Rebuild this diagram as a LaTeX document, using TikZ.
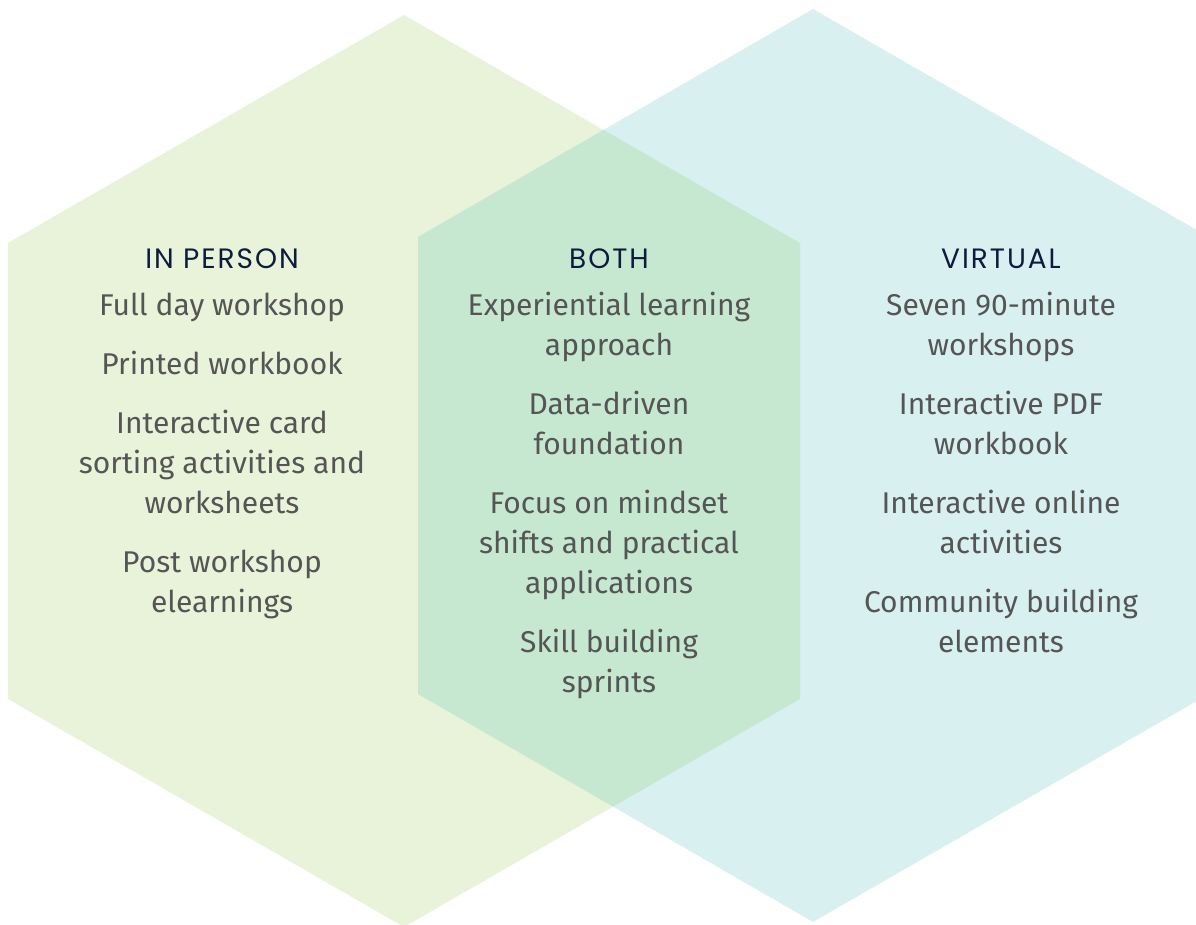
\documentclass[tikz,border=0pt]{standalone}
\usepackage{fontspec}
\setmainfont{Fira Sans}
\newfontfamily\headfont{Poppins}[LetterSpace=7]
\definecolor{leftfill}{HTML}{E9F3DA}
\definecolor{rightfill}{HTML}{D9F0F0}
\definecolor{bothfill}{HTML}{C7E8D0}
\definecolor{headcol}{HTML}{0D1B3E}
\definecolor{bodycol}{HTML}{555555}
\begin{document}
\begin{tikzpicture}[x=1pt,y=-1pt,
  head/.style={anchor=base,inner sep=0pt,text=headcol,font=\headfont\fontsize{28}{30}\selectfont},
  body/.style={anchor=base,inner sep=0pt,text=bodycol,font=\fontsize{30}{40}\selectfont}]
\useasboundingbox (0,0) rectangle (1196,924);
\def\lefthex{(404,15) -- (800,243) -- (800,699) -- (404,927) -- (8,699) -- (8,243) -- cycle}
\def\righthex{(813,9) -- (1209,237) -- (1209,694) -- (813,922) -- (418,694) -- (418,237) -- cycle}
\fill[leftfill] \lefthex;
\fill[rightfill] \righthex;
\begin{scope}
\clip \righthex;
\fill[bothfill] \lefthex;
\end{scope}
% left column
\node[head] (hl) at (222,268) {IN PERSON};
\node[body] (l1) at (222,315) {Full day workshop};
\node[body] (l2) at (222,374) {Printed workbook};
\node[body] (l3a) at (222,433) {Interactive card};
\node[body] (l3b) at (222,473) {sorting activities and};
\node[body] (l3c) at (222,513) {worksheets};
\node[body] (l4a) at (222,572) {Post workshop};
\node[body] (l4b) at (222,612) {elearnings};
% middle column
\node[head] (hm) at (609,268) {BOTH};
\node[body] (m1a) at (609,315) {Experiential learning};
\node[body] (m1b) at (609,355) {approach};
\node[body] (m2a) at (609,414) {Data-driven};
\node[body] (m2b) at (609,454) {foundation};
\node[body] (m3a) at (609,513) {Focus on mindset};
\node[body] (m3b) at (609,553) {shifts and practical};
\node[body] (m3c) at (609,593) {applications};
\node[body] (m4a) at (609,652) {Skill building};
\node[body] (m4b) at (609,692) {sprints};
% right column
\node[head] (hr) at (1001,268) {VIRTUAL};
\node[body] (r1a) at (1001,315) {Seven 90-minute};
\node[body] (r1b) at (1001,355) {workshops};
\node[body] (r2a) at (1001,414) {Interactive PDF};
\node[body] (r2b) at (1001,454) {workbook};
\node[body] (r3a) at (1001,513) {Interactive online};
\node[body] (r3b) at (1001,553) {activities};
\node[body] (r4a) at (1001,612) {Community building};
\node[body] (r4b) at (1001,652) {elements};
\end{tikzpicture}
\end{document}
